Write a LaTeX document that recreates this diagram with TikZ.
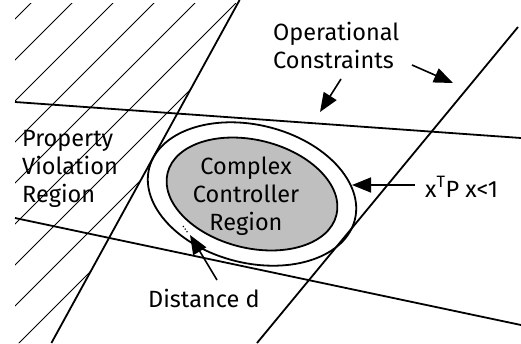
\documentclass[tikz,border=0pt]{standalone}
\usepackage{fontspec}
\setmainfont{Fira Sans}
\usetikzlibrary{arrows.meta}
\newcommand{\picw}{521}
\newcommand{\pich}{343}
\newcommand{\ellrot}{-14}
\newcommand{\outrx}{106pt}
\newcommand{\outry}{69pt}
\newcommand{\inrx}{87pt}
\newcommand{\inry}{54pt}
\tikzset{
  bound/.style={line width=1.8pt},
  hatchline/.style={line width=0.8pt},
  region/.style={line width=1.8pt},
  pointer/.style={line width=1.6pt,-{Triangle[length=19pt,width=15pt]}},
  lbl/.style={inner sep=0pt,font=\fontsize{23.5}{28}\selectfont},
}

\begin{document}
\begin{tikzpicture}[x=1pt,y=-1pt]
    \useasboundingbox (0,0) rectangle (\picw,\pich);
    % ends of the constraint lines
    \coordinate (upL) at (15,102);
    \coordinate (upR) at (521,138);
    \coordinate (loL) at (15,218);
    \coordinate (loR) at (521,325);
    \coordinate (stT) at (239.6,0);
    \coordinate (stB) at (51.4,343);
    \coordinate (opT) at (518,27);
    \coordinate (opB) at (257,343);
    % hatched violation part
    \begin{scope}
      \clip (15,3) -- (238,3) -- (stB) -- (15,343) -- cycle;
      \foreach \c in {34,75,...,400}
        \draw[hatchline] (\c,0) -- (\c-400,400);
    \end{scope}
    % constraint lines
    \draw[bound] (upL) -- (upR);
    \draw[bound] (loL) -- (loR);
    \draw[bound] (stT) -- (stB);
    \draw[bound] (opT) -- (opB);
    % invariant set and controller region
    \coordinate (ctr) at (252,194);
    \draw[region, rotate around={\ellrot:(ctr)}]
      (ctr) ellipse [x radius=\outrx, y radius=\outry];
    \draw[region, fill=gray!50, rotate around={\ellrot:(ctr)}]
      (ctr) ellipse [x radius=\inrx, y radius=\inry];
    % labels (base = last line)
    \node[lbl, align=left, anchor=base west] (opc) at (273,68)
      {Operational\\Constraints};
    \node[lbl, align=left, anchor=base west] (pvr) at (22,202)
      {Property\\Violation\\Region};
    \node[lbl, align=center, anchor=base] (ccr) at (246,230)
      {Complex\\Controller\\Region};
    \node[lbl, anchor=base west] (lyap) at (425,197)
      {x\textsuperscript{T}P x<1};
    \node[lbl, anchor=base west] (dist) at (148,307) {Distance d};
    % pointers
    \coordinate (opcTailL) at (341,79);
    \coordinate (opcTipL) at (320,112);
    \coordinate (opcTailR) at (412,65);
    \coordinate (opcTipR) at (453,83);
    \coordinate (lyapTail) at (415,185);
    \coordinate (lyapTip) at (352,185);
    \coordinate (distTail) at (217,280);
    \coordinate (distTip) at (190,235);
    \coordinate (gapA) at (183,226);
    \coordinate (gapB) at (188,233);
    \draw[pointer] (opcTailL) -- (opcTipL);
    \draw[pointer] (opcTailR) -- (opcTipR);
    \draw[pointer] (lyapTail) -- (lyapTip);
    \draw[pointer] (distTail) -- (distTip);
    \draw[line width=1.2pt, dash pattern=on 1.2pt off 2pt] (gapA) -- (gapB);
\end{tikzpicture}
\end{document}
